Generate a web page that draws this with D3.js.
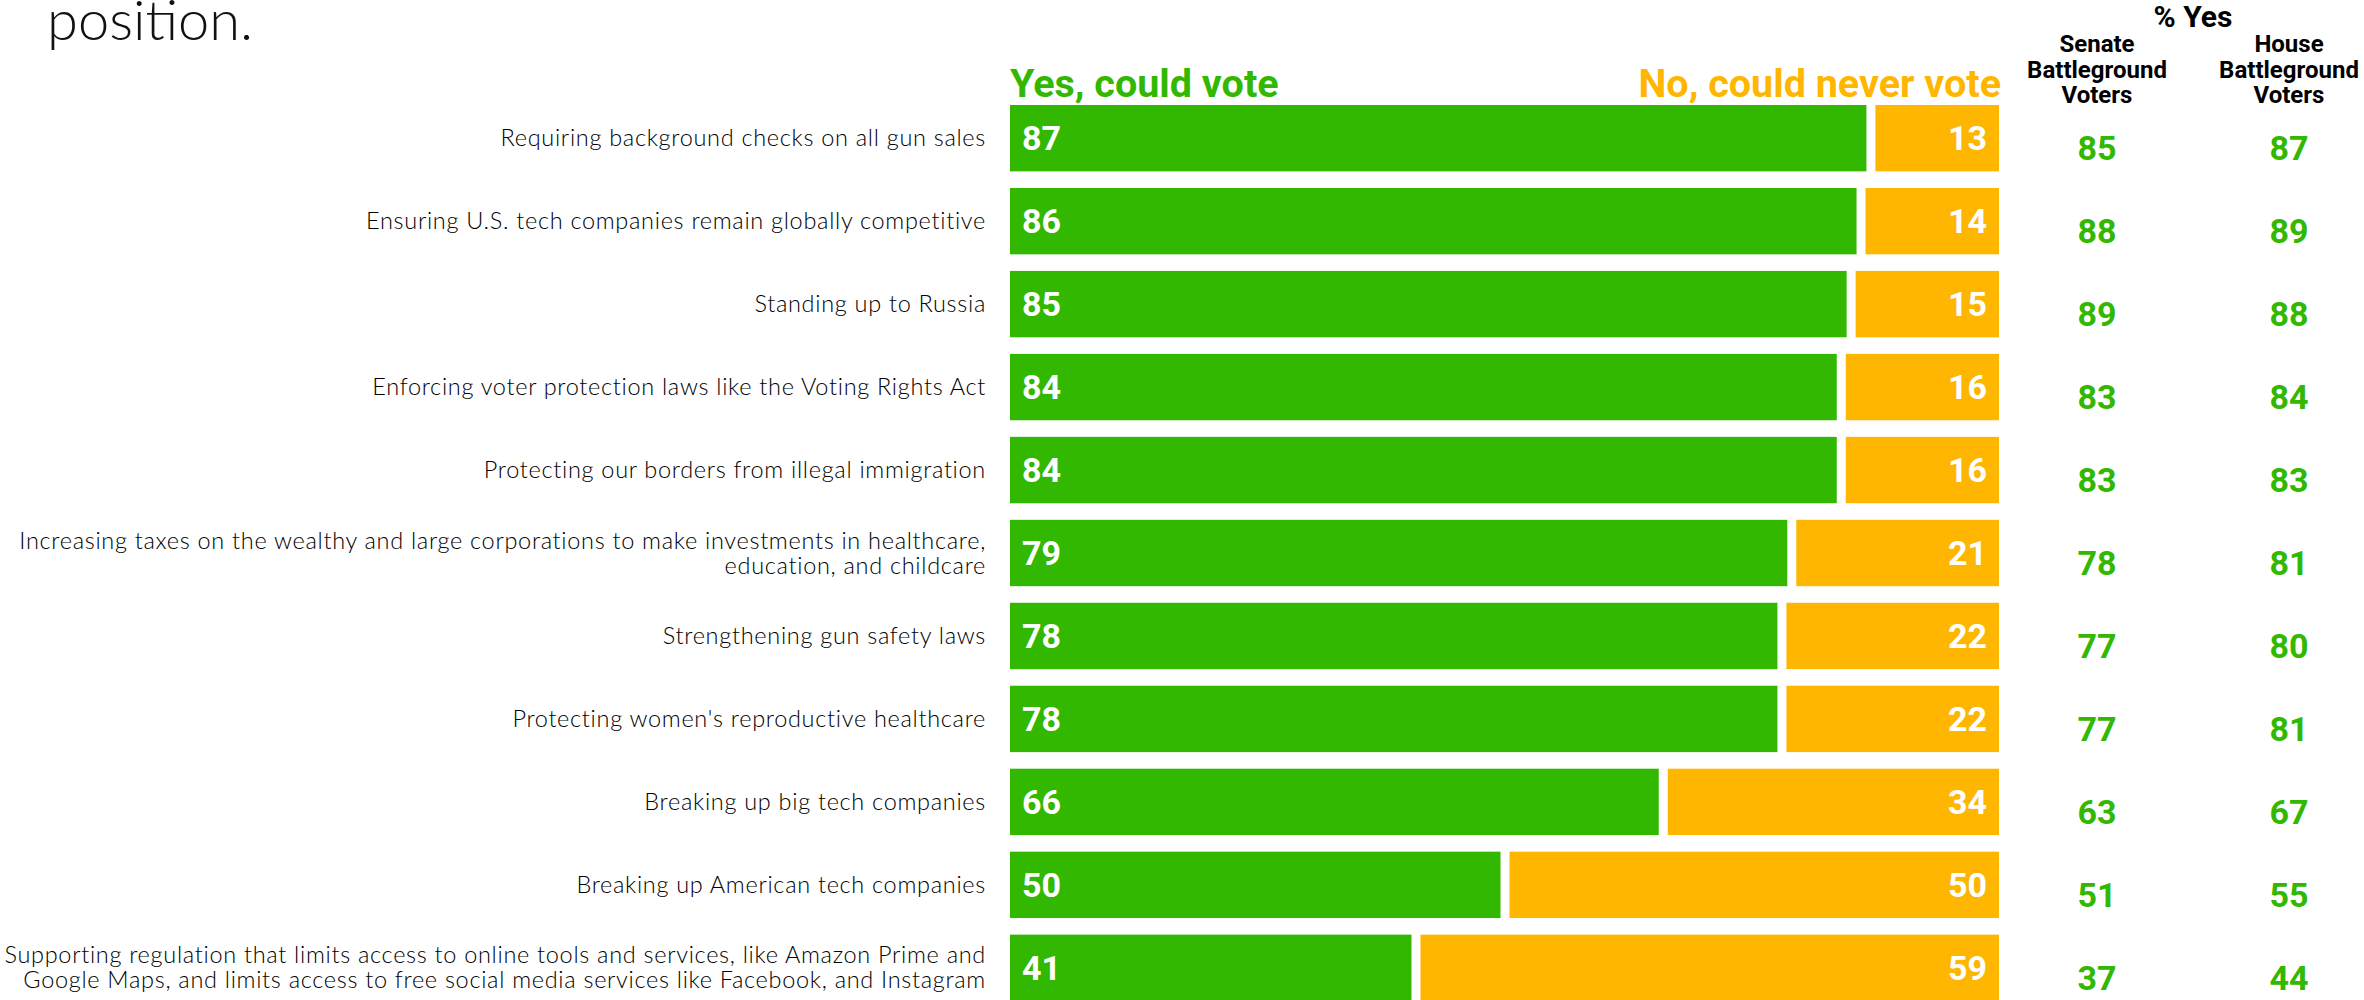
<!DOCTYPE html>
<html>
<head>
<meta charset="utf-8">
<script src="https://cdn.jsdelivr.net/npm/d3@7"></script>
<style>
  html, body { margin: 0; padding: 0; background: #fff; }
  svg { display: block; }
  .cat { font-family: "Lato", sans-serif; font-weight: 300; fill: #000; letter-spacing: 0.7px; }
  .num { font-family: "Roboto", sans-serif; font-weight: 700; }
</style>
</head>
<body>
<div id="chart"></div>
<script>
// survey items (multi-line labels split with |)
var categories = [
  "Requiring background checks on all gun sales",
  "Ensuring U.S. tech companies remain globally competitive",
  "Standing up to Russia",
  "Enforcing voter protection laws like the Voting Rights Act",
  "Protecting our borders from illegal immigration",
  "Increasing taxes on the wealthy and large corporations to make investments in healthcare,|education, and childcare",
  "Strengthening gun safety laws",
  "Protecting women's reproductive healthcare",
  "Breaking up big tech companies",
  "Breaking up American tech companies",
  "Supporting regulation that limits access to online tools and services, like Amazon Prime and|Google Maps, and limits access to free social media services like Facebook, and Instagram"
];
var yesValues = [87, 86, 85, 84, 84, 79, 78, 78, 66, 50, 41];
var noValues = [13, 14, 15, 16, 16, 21, 22, 22, 34, 50, 59];
var senateYes = [85, 88, 89, 83, 83, 78, 77, 77, 63, 51, 37];
var houseYes = [87, 89, 88, 84, 83, 81, 80, 81, 67, 55, 44];

var width = 2364, height = 1000;
var green = "#32b800", orange = "#ffb600";

var svg = d3.select("#chart").append("svg")
  .attr("width", width)
  .attr("height", height);

var x = d3.scaleLinear().domain([0, 100]).range([1010, 1999]);
var y = d3.scaleBand().domain(d3.range(categories.length))
  .range([105, 1001]).paddingInner(0.2).paddingOuter(0);

// title tail (rest is above the visible area)
svg.append("text")
  .attr("x", 47).attr("y", 40)
  .style("font-family", "Lato, sans-serif").style("font-weight", 300)
  .style("font-size", "56px").style("fill", "#111")
  .text("position.");

// legend
svg.append("text").attr("class", "num")
  .attr("x", x(0)).attr("y", 97)
  .style("font-size", "39.5px").style("fill", green)
  .text("Yes, could vote");
svg.append("text").attr("class", "num")
  .attr("x", x(100) + 2).attr("y", 97)
  .attr("text-anchor", "end")
  .style("font-size", "39.5px").style("fill", orange)
  .text("No, could never vote");

// right-hand columns
var colSenate = 2097, colHouse = 2289;
svg.append("text").attr("class", "num")
  .attr("x", (colSenate + colHouse) / 2).attr("y", 27)
  .attr("text-anchor", "middle").style("font-size", "30px").style("fill", "#000")
  .text("% Yes");
[[colSenate, ["Senate", "Battleground", "Voters"]], [colHouse, ["House", "Battleground", "Voters"]]]
  .forEach(function (c) {
    svg.append("text").attr("class", "num")
      .attr("text-anchor", "middle").style("font-size", "24px").style("fill", "#000")
      .selectAll("tspan").data(c[1]).enter().append("tspan")
      .attr("x", c[0]).attr("y", (d, i) => 52 + i * 25.5)
      .text(d => d);
  });

var rows = svg.append("g").selectAll("g.row")
  .data(categories).enter().append("g").attr("class", "row");

// category labels
rows.append("text").attr("class", "cat")
  .attr("text-anchor", "end")
  .style("font-size", "23.5px")
  .each(function (d, i) {
    var lines = d.split("|");
    var cy = y(i) + y.bandwidth() / 2;
    d3.select(this).selectAll("tspan").data(lines).enter().append("tspan")
      .attr("x", 986)
      .attr("y", (l, j) => cy + 8 + (j - (lines.length - 1) / 2) * 25)
      .text(l => l);
  });

// bars
rows.append("rect")
  .attr("x", x(0))
  .attr("y", (d, i) => y(i))
  .attr("width", (d, i) => x(yesValues[i]) - x(0) - 4)
  .attr("height", y.bandwidth())
  .attr("fill", green);
rows.append("rect")
  .attr("x", (d, i) => x(yesValues[i]) + 5)
  .attr("y", (d, i) => y(i))
  .attr("width", (d, i) => x(100) - x(yesValues[i]) - 5)
  .attr("height", y.bandwidth())
  .attr("fill", orange);

// bar labels
rows.append("text").attr("class", "num")
  .attr("x", x(0) + 12)
  .attr("y", (d, i) => y(i) + y.bandwidth() / 2 + 12)
  .style("font-size", "34px").style("fill", "#fff")
  .text((d, i) => yesValues[i]);
rows.append("text").attr("class", "num")
  .attr("x", x(100) - 12)
  .attr("y", (d, i) => y(i) + y.bandwidth() / 2 + 12)
  .attr("text-anchor", "end")
  .style("font-size", "34px").style("fill", "#fff")
  .text((d, i) => noValues[i]);

// % yes columns
rows.append("text").attr("class", "num")
  .attr("x", colSenate)
  .attr("y", (d, i) => y(i) + y.bandwidth() / 2 + 22)
  .attr("text-anchor", "middle")
  .style("font-size", "34px").style("fill", green)
  .text((d, i) => senateYes[i]);
rows.append("text").attr("class", "num")
  .attr("x", colHouse)
  .attr("y", (d, i) => y(i) + y.bandwidth() / 2 + 22)
  .attr("text-anchor", "middle")
  .style("font-size", "34px").style("fill", green)
  .text((d, i) => houseYes[i]);
</script>
</body>
</html>
